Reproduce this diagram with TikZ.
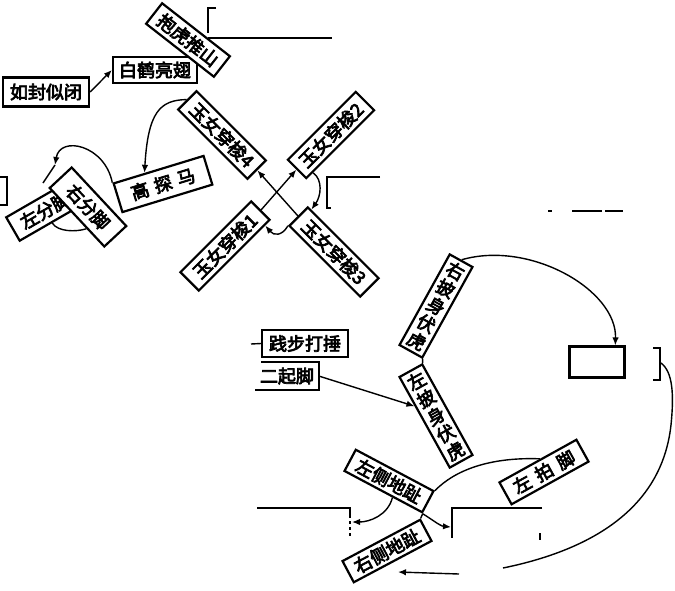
\documentclass[tikz,border=0pt]{standalone}
\usepackage{fontspec}
\newfontfamily\cjk[FakeBold=4]{Noto Sans CJK SC}
\usetikzlibrary{arrows.meta,calc}
\pgfdeclarelayer{bg}
\pgfsetlayers{bg,main}
\tikzset{
  box/.style={draw, line width=2.2pt, fill=white, font=\cjk\fontsize{18}{20}\selectfont,
    inner xsep=4pt, inner ysep=3.5pt, minimum height=26pt},
  vbox/.style={box, align=center},
  openbox/.style={font=\cjk\fontsize{18}{20}\selectfont, inner xsep=4pt, inner ysep=4pt, minimum height=27pt},
  con/.style={line width=1.4pt},
  arr/.style={con, -{Latex[length=8pt,width=6.5pt]}},
  frag/.style={line width=1.5pt},
}
\begin{document}
\begin{tikzpicture}[x=1pt,y=-1pt]
\useasboundingbox (0,0) rectangle (675,590);

% top-left group
\node[box, minimum width=86pt, minimum height=29pt] (rufeng) at (46,92) {如封似闭};
\node[box, minimum width=84pt] (baihe) at (155,70) {白鹤亮翅};
\node[box, minimum width=86pt, rotate=-38] (baohu) at (188,40) {抱虎推山};
\node[box, minimum width=94pt, minimum height=30pt, rotate=17] (gt) at (163,184) {高\hspace{6pt}探\hspace{6pt}马};
\node[box, minimum width=74pt, minimum height=27pt, rotate=30] (lf) at (45,210.5) {左分脚};
\node[box, minimum width=80pt, minimum height=30pt, rotate=-47] (rf) at (88,207) {右分脚};

% X of four
\node[box, minimum width=98pt, rotate=-45] (y4) at (222,135) {玉女穿梭4};
\node[box, minimum width=96pt, rotate=45] (y2) at (331,135) {玉女穿梭2};
\node[box, minimum width=100pt, rotate=45] (y1) at (225,246) {玉女穿梭1};
\node[box, minimum width=100pt, rotate=-45] (y3) at (334,252) {玉女穿梭3};

% middle
\node[box, minimum width=86pt, minimum height=27pt] (jb) at (305,343.5) {践步打捶};
\node[openbox, minimum width=63pt] (eq) at (287,376) {二起脚};
\node[vbox, rotate=-29] (rp) at (436,306) {右\\披\\身\\伏\\虎};
\node[vbox, rotate=29] (lp) at (436,416) {左\\披\\身\\伏\\虎};
\node[draw, line width=2.2pt, fill=white, minimum width=55pt, minimum height=31pt] (eb) at (597,362) {};

% bottom
\node[box, minimum width=88pt, minimum height=25pt, rotate=29] (lpj) at (544,472) {左\hspace{7pt}拍\hspace{7pt}脚};
\node[box, minimum width=88pt, minimum height=24pt, rotate=-28] (lsd) at (389,481) {左侧地趾};
\node[box, minimum width=88pt, minimum height=24pt, rotate=28] (rsd) at (387,551) {右侧地趾};

% free ends
\coordinate (ap1) at (55,165);
\coordinate (ap2) at (43,183);
\coordinate (s1) at (251,344);
\coordinate (lbk) at (352,522);
\coordinate (rbk) at (451,527);
\coordinate (bk1) at (661,363);
\coordinate (arcend) at (503,568);
\coordinate (a2s) at (459,574);
\coordinate (a2e) at (398,572);

% open box of 二起脚
\draw[line width=2.2pt] ($(eq.north west)+(6,0)$) -- (eq.north east) -- (eq.south east) -- (eq.south west);

\begin{pgfonlayer}{bg}
  \draw[arr] (rufeng.east) -- (baihe.west);
  \draw[arr] (y4.west) .. controls (160,100) and (148,112) .. ($(gt.north west)!0.35!(gt.north east)$);
  \draw[arr] (gt.north west) .. controls (105,145) and (60,135) .. (ap1);
  \draw[con] (ap1) -- (ap2);
  \draw[con] (lf.south) .. controls (58,232) and (76,232) .. ($(rf.south west)!0.68!(rf.south east)$);

  \draw[arr] (y1.east) -- (y2.west);
  \draw[arr] ($(y2.south west)!0.1!(y2.south east)$) .. controls (323,180) and (321,196) .. ($(y3.north west)!0.05!(y3.north east)$);
  \draw[arr] (y3.west) -- (y4.east);
  \draw[arr] (y3.south west) .. controls (282,236) and (274,236) .. ($(y1.south east)!0.08!(y1.south west)$);

  \draw[con] (s1) -- (jb.west);
  \draw[arr] (eq.east) -- ($(lp.north west)!0.32!(lp.south west)$);
  \draw[con] (rp.south east) -- (lp.north east);
  \draw[arr] (rp.north) .. controls (530,240) and (617,290) .. ($(eb.north west)!0.82!(eb.north east)$);

  \draw[con] (lsd.north east) .. controls (455,470) and (490,457) .. ($(lpj.north west)!0.53!(lpj.north east)$);
  \draw[con] (lsd.south east) -- (rsd.north east);
  \draw[arr] ($(lsd.south west)!0.62!(lsd.south east)$) .. controls (388,515) and (370,522) .. (lbk);
  \draw[arr] (lsd.south east) .. controls (430,518) and (440,526) .. (rbk);
  \draw[con] (bk1) .. controls (673,372) and (674,395) .. (671,425) .. controls (666,470) and (640,540) .. (arcend);
  \draw[arr] (a2s) -- (a2e);
\end{pgfonlayer}

% fragments
\draw[frag] (216,8) -- (208,8) -- (208,33);
\draw[frag] (208,38) -- (332,38);
\draw[frag] (380,177) -- (327,177) -- (327,208) -- (331,208);
\draw[frag] (0,177) -- (7,177) -- (7,205) -- (0,205);
\draw[frag] (653,348) -- (660,348) -- (660,380) -- (653,380);
\draw[frag] (548,211) -- (552,211);
\draw[frag] (572,211) -- (602,211);
\draw[frag] (605,211) -- (623,211);
\draw[frag] (257,508) -- (350,508) -- (350,515);
\draw[frag, dash pattern=on 3pt off 3pt] (350,515) -- (350,538);
\draw[frag] (542,508) -- (452,508) -- (452,538);
\draw[frag] (540,533) -- (540,540);
\end{tikzpicture}
\end{document}
